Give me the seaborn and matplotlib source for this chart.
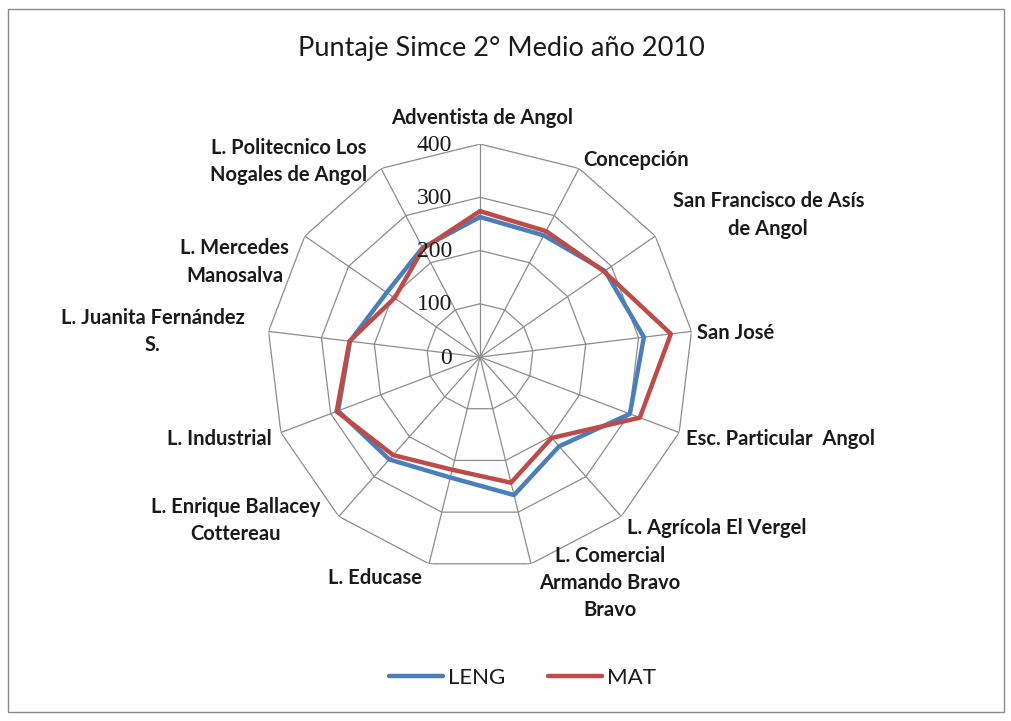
import numpy as np
import pandas as pd
import matplotlib
matplotlib.use("Agg")
import matplotlib.pyplot as plt
import seaborn as sns
from matplotlib.patches import Rectangle
from matplotlib.lines import Line2D

# Data
categories = ['Adventista de Angol', 'Concepción', 'San Francisco de Asís\nde Angol',
              'San José', 'Esc. Particular  Angol', 'L. Agrícola El Vergel',
              'L. Comercial\nArmando Bravo\nBravo', 'L. Educase',
              'L. Enrique Ballacey\nCottereau', 'L. Industrial',
              'L. Juanita Fernández\nS.', 'L. Mercedes\nManosalva',
              'L. Politecnico Los\nNogales de Angol']
leng = [263, 258, 285, 310, 301, 224, 267, 233, 257, 285, 246, 213, 232]
mat = [274, 267, 283, 361, 321, 203, 243, 218, 246, 288, 247, 195, 230]
series_names = ['LENG', 'MAT']
ring_values = [100, 200, 300, 400]
tick_values = [0, 100, 200, 300, 400]

colors = {'LENG': '#4A7EBB', 'MAT': '#BE4B48'}
grid_color = '#8C8C8C'

sns.set_theme(style='white')
plt.rcParams['font.family'] = ['Lato', 'DejaVu Sans']

n = len(categories)
theta = np.linspace(0, 2 * np.pi, n, endpoint=False)
theta_closed = np.append(theta, theta[0])

rows = []
for name, vals in zip(series_names, [leng, mat]):
    vals_closed = list(vals) + [vals[0]]
    for i, (t, v) in enumerate(zip(theta_closed, vals_closed)):
        rows.append({'serie': name, 'order': i, 'theta': t, 'valor': v})
df = pd.DataFrame(rows)

fig = plt.figure(figsize=(10.11, 7.21), dpi=100)
fig.patch.set_facecolor('white')
fig.patches.append(Rectangle((0.008, 0.012), 0.985, 0.975, transform=fig.transFigure,
                             fill=False, edgecolor='#8A8A8A', linewidth=1.0))

ax = fig.add_axes([0.2641, 0.2094, 0.4214, 0.5908], projection='polar')
ax.set_theta_zero_location('N')
ax.set_theta_direction(-1)
ax.set_ylim(0, 400)
ax.grid(False)
ax.spines['polar'].set_visible(False)
ax.set_xticks([])
ax.set_yticks([])
ax.set_facecolor('none')

# polygon grid like Excel radar
for r in ring_values:
    ax.plot(theta_closed, [r] * (n + 1), color=grid_color, lw=0.9, zorder=1)
for t in theta:
    ax.plot([t, t], [0, 400], color=grid_color, lw=0.9, zorder=1)

sns.lineplot(data=df, x='theta', y='valor', hue='serie', palette=colors,
             sort=False, estimator=None, units='serie', linewidth=3.2,
             legend=False, ax=ax, zorder=3)
ax.set_xlabel('')
ax.set_ylabel('')
ax.set_ylim(0, 400)

# radial value labels
for v in tick_values:
    ax.annotate(str(v), xy=(0, v), xytext=(-28, -1), textcoords='offset pixels',
                ha='right', va='center', fontsize=17, family='Liberation Serif',
                color='#1a1a1a', annotation_clip=False)

# category labels: (offset x, offset y in pixels, ha)
label_layout = [(2, 26, 'center'), (4, 8, 'left'), (113, 21, 'center'),
                (6, -2, 'left'), (7, -6, 'left'), (6, -12, 'left'),
                (79, -19, 'center'), (-7, -14, 'right'), (-103, -4, 'center'),
                (-9, -6, 'right'), (-116, 0, 'center'), (-70, -26, 'center'),
                (-92, 7, 'center')]
for t, lab, (dx, dy, ha) in zip(theta, categories, label_layout):
    ax.annotate(lab, xy=(t, 400), xytext=(dx, dy), textcoords='offset pixels',
                ha=ha, va='center', multialignment='center', fontsize=14.5,
                fontweight='bold', linespacing=1.45, color='#1a1a1a',
                annotation_clip=False)

fig.text(0.496, 0.933, 'Puntaje Simce 2° Medio año 2010', ha='center', va='center',
         fontsize=19.5, color='#1a1a1a')

handles = [Line2D([0], [0], color=colors[s], lw=3.2) for s in series_names]
fig.legend(handles, series_names, loc='center', bbox_to_anchor=(0.517, 0.06), ncol=2,
           frameon=False, fontsize=16, handlelength=2.43, handletextpad=0.25,
           columnspacing=1.9, labelcolor='#1a1a1a')

fig.savefig('out.png', dpi=100)
